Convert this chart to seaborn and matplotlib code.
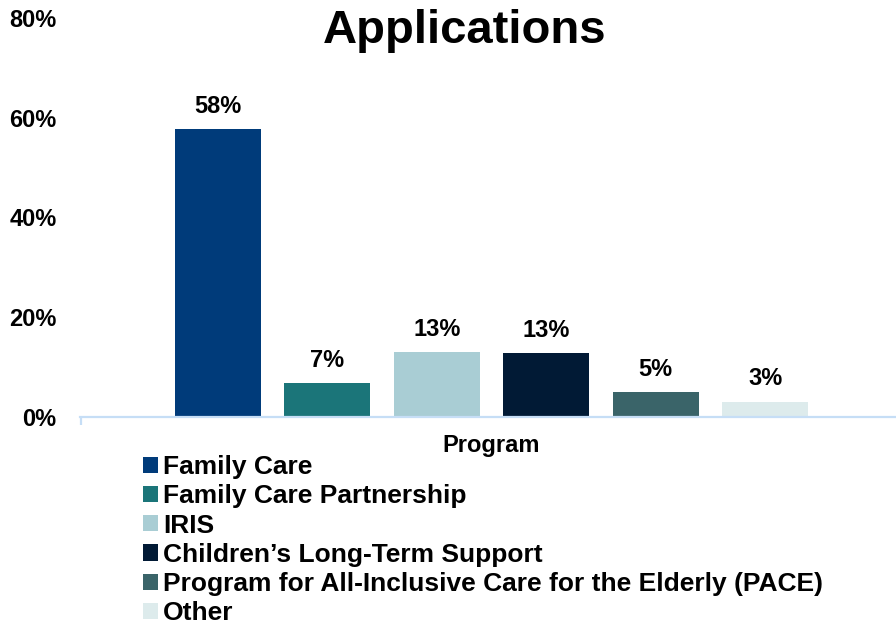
import pandas as pd
import numpy as np
import matplotlib.pyplot as plt
import matplotlib.ticker as mtick
import seaborn as sns

# 값 (그림에서 읽은 비율)
programs = ["Family Care", "Family Care Partnership", "IRIS",
            "Children\u2019s Long-Term Support",
            "Program for All-Inclusive Care for the Elderly (PACE)", "Other"]
shares = [0.578, 0.068, 0.131, 0.129, 0.050, 0.031]
category = ["Program"] * len(programs)
colors = ["#003B7A", "#1B7579", "#A9CDD4", "#011A35", "#3A6469", "#DDEBEC"]
y_ticks = [0.0, 0.2, 0.4, 0.6, 0.8]

df = pd.DataFrame({"category": category, "program": programs, "share": shares})

sns.set_style("white")
plt.rcParams["font.family"] = ["Liberation Sans", "DejaVu Sans"]
plt.rcParams["font.weight"] = "bold"
plt.rcParams["text.color"] = "black"

fig = plt.figure(figsize=(8.96, 6.23), dpi=100)
ax = fig.add_axes([80 / 896, 1 - 417 / 623, 1 - 80 / 896, (417 - 18) / 623])

sns.barplot(data=df, x="category", y="share", hue="program",
            palette=dict(zip(programs, colors)), width=0.805, gap=0.215,
            saturation=1, linewidth=0, ax=ax)

# 막대 위 라벨
for cont in ax.containers:
    vals = [r.get_height() for r in cont]
    ax.bar_label(cont, labels=[f"{v * 100:.0f}%" for v in vals],
                 padding=8, fontsize=17, fontweight="bold", color="black")

x_left = -0.5043
ax.set_ylim(0, 0.8)
ax.set_yticks(y_ticks)
ax.yaxis.set_major_formatter(mtick.PercentFormatter(1.0, decimals=0))
ax.set_xlim(x_left, x_left + 1)
ax.set_xlabel("")
ax.set_ylabel("")

axis_color = "#C6DEF6"
for s in ["top", "right", "left"]:
    ax.spines[s].set_visible(False)
ax.spines["bottom"].set_color(axis_color)
ax.spines["bottom"].set_linewidth(1.6)

ax.tick_params(axis="y", length=0, pad=17, labelsize=17, labelcolor="black")
ax.tick_params(axis="x", which="major", length=0, pad=12, labelsize=17,
               labelcolor="black")
ax.set_xticks([x_left + 0.001], minor=True)
ax.tick_params(axis="x", which="minor", bottom=True, length=6, width=1.6,
               color=axis_color, direction="out")
for lab in ax.get_xticklabels() + ax.get_yticklabels():
    lab.set_fontweight("bold")

fig.text(465 / 896, 1 - 31 / 623, "Applications", ha="center", va="center",
         fontsize=34, fontweight="bold", color="black")

handles, labels = ax.get_legend_handles_labels()
ax.get_legend().remove()
leg = fig.legend(handles, labels, loc="upper left",
                 bbox_to_anchor=(143 / 896, 1 - 455 / 623), frameon=False,
                 handlelength=0.57, handleheight=0.57,
                 handletextpad=0.2, labelspacing=0.2, borderpad=0,
                 borderaxespad=0, prop={"weight": "bold", "size": 19})
for t in leg.get_texts():
    t.set_color("black")

fig.savefig("out.png", dpi=100)
